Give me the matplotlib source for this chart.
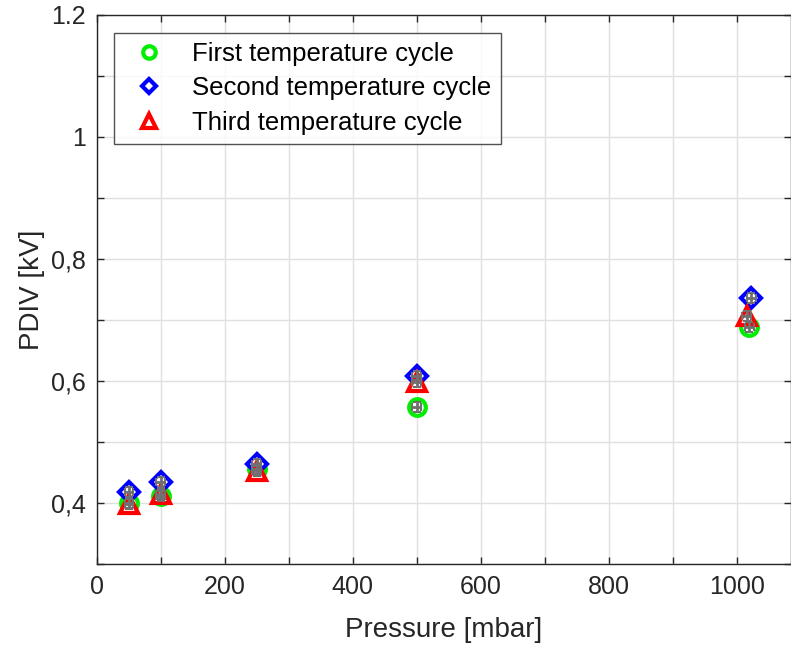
import matplotlib
matplotlib.use("Agg")
import matplotlib.pyplot as plt
import numpy as np

plt.rcParams['font.family'] = ['Liberation Sans', 'DejaVu Sans']

# Data
p1 = [50, 100, 250, 500, 1020]
v1 = [0.400, 0.411, 0.456, 0.557, 0.689]
p2 = [50, 100, 250, 500, 1023]
v2 = [0.418, 0.434, 0.464, 0.609, 0.736]
p3 = [50, 100, 250, 500, 1016]
v3 = [0.398, 0.415, 0.452, 0.598, 0.707]
labels = ["First temperature cycle", "Second temperature cycle", "Third temperature cycle"]
yerr = 0.008
xerr = 7

xticks = np.arange(0, 1001, 100)
xticklabels = ["0", "", "200", "", "400", "", "600", "", "800", "", "1000"]
yticks = [0.3, 0.4, 0.5, 0.6, 0.7, 0.8, 0.9, 1.0, 1.1, 1.2]
yticklabels = ["", "0,4", "", "0,6", "", "0,8", "", "1", "", "1.2"]

fig = plt.figure(figsize=(7.91, 6.45), dpi=100)
ax = fig.add_axes([97/791, 81/645, 694/791, 549/645])

specs = [(p1, v1, 'o', '#00ee00', 12), (p2, v2, 'D', '#0000ff', 10), (p3, v3, '^', '#ff0000', 13)]
for (x, y, m, c, ms), lab in zip(specs, labels):
    ax.plot(x, y, linestyle='none', marker=m, markersize=ms, markerfacecolor='white',
            markeredgecolor=c, markeredgewidth=3, label=lab, zorder=3)
for (x, y, m, c, ms) in specs:
    ax.errorbar(x, y, yerr=yerr, xerr=xerr, fmt='none', ecolor='#707070',
                elinewidth=2, capsize=3, capthick=1.5, zorder=4)

ax.set_xlim(0, 1085)
ax.set_ylim(0.3, 1.2)
ax.set_xticks(xticks)
ax.set_xticklabels(xticklabels)
ax.set_yticks(yticks)
ax.set_yticklabels(yticklabels)
ax.grid(True, color='#e0e0e0', linewidth=1)
ax.set_axisbelow(True)
ax.tick_params(direction='in', length=5, width=1, colors='#262626', labelsize=18,
               top=True, right=True, pad=8)
for s in ax.spines.values():
    s.set_color('#262626')
    s.set_linewidth(1)
ax.set_xlabel("Pressure [mbar]", fontsize=20, color='#262626', labelpad=13)
ax.set_ylabel("PDIV [kV]", fontsize=20, color='#262626', labelpad=4)

leg = ax.legend(loc='upper left', bbox_to_anchor=(17/694, 1 - 18/549), fontsize=18.5,
                frameon=True, fancybox=False, edgecolor='#262626', borderpad=0.35,
                handletextpad=0.7, labelspacing=0.4, borderaxespad=0, markerscale=0.75)
leg.get_frame().set_linewidth(1)

fig.savefig("out.png", dpi=100)
